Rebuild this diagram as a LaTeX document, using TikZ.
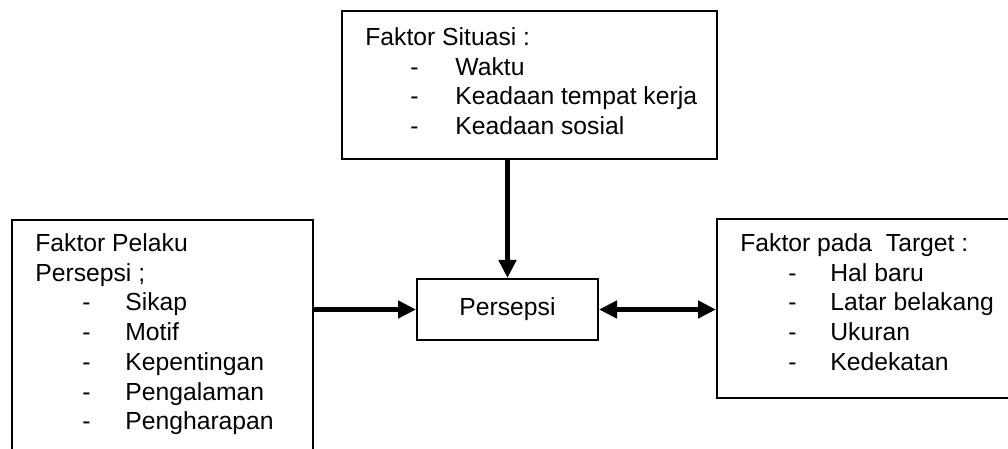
\documentclass[tikz,border=0pt]{standalone}
\usepackage{fontspec}
\setmainfont{Liberation Sans}
\usetikzlibrary{arrows.meta}
\newcommand{\itm}[3]{\hspace*{#1}\makebox[#2][l]{-}#3}
\begin{document}
\begin{tikzpicture}[x=0.5pt,y=-0.5pt,
  box/.style={draw, line width=1pt, inner sep=0pt},
  txt/.style={anchor=base west, inner sep=0pt, font=\fontsize{12.35}{14}\selectfont},
  conn/.style={line width=2.4pt},
  >={Triangle[length=9pt,width=8.5pt]},
]
\useasboundingbox (0,0) rectangle (1008,449);
\fill[white] (0,0) rectangle (1008,449);
\begin{scope}
\clip (0,0) rectangle (1008,449);
% boxes
\node (top)  [box, minimum width=187.5pt, minimum height=74pt]  at (529.5,85) {};
\node (left) [box, minimum width=150.5pt, minimum height=125pt] at (162.5,345) {};
\node (pers) [box, minimum width=90.5pt, minimum height=30.5pt,
              font=\fontsize{12.35}{14}\selectfont] at (507.5,309.5) {Persepsi};
\node (right)[box, minimum width=156.5pt, minimum height=89.5pt] at (873.5,308.5) {};
% texts of the top box
\node (s0) [txt] at (365,45.5)  {Faktor Situasi :};
\node (s1) [txt] at (365,75.2)  {\itm{22.5pt}{22.5pt}{Waktu}};
\node (s2) [txt] at (365,104.9) {\itm{22.5pt}{22.5pt}{Keadaan tempat kerja}};
\node (s3) [txt] at (365,134.6) {\itm{22.5pt}{22.5pt}{Keadaan sosial}};
% texts of the left box
\node (p0) [txt] at (35,251.5) {Faktor Pelaku};
\node (p1) [txt] at (35,281.2) {Persepsi ;};
\node (p2) [txt] at (35,310.9) {\itm{23.5pt}{21.5pt}{Sikap}};
\node (p3) [txt] at (35,340.6) {\itm{23.5pt}{21.5pt}{Motif}};
\node (p4) [txt] at (35,370.3) {\itm{23.5pt}{21.5pt}{Kepentingan}};
\node (p5) [txt] at (35,400)   {\itm{23.5pt}{21.5pt}{Pengalaman}};
\node (p6) [txt] at (35,429.7) {\itm{23.5pt}{21.5pt}{Pengharapan}};
% texts of the right box
\node (t0) [txt] at (740,251.5) {Faktor pada\ \ Target :};
\node (t1) [txt] at (740,281.2) {\itm{24pt}{21pt}{Hal baru}};
\node (t2) [txt] at (740,310.9) {\itm{24pt}{21pt}{Latar belakang}};
\node (t3) [txt] at (740,340.6) {\itm{24pt}{21pt}{Ukuran}};
\node (t4) [txt] at (740,370.3) {\itm{24pt}{21pt}{Kedekatan}};
\end{scope}
% connectors
\draw[conn, ->] (pers.north |- top.south) -- (pers.north);
\draw[conn, ->] (left.east |- pers.west) -- (pers.west);
\draw[conn, <->] (pers.east) -- (right.west |- pers.east);
\end{tikzpicture}
\end{document}
